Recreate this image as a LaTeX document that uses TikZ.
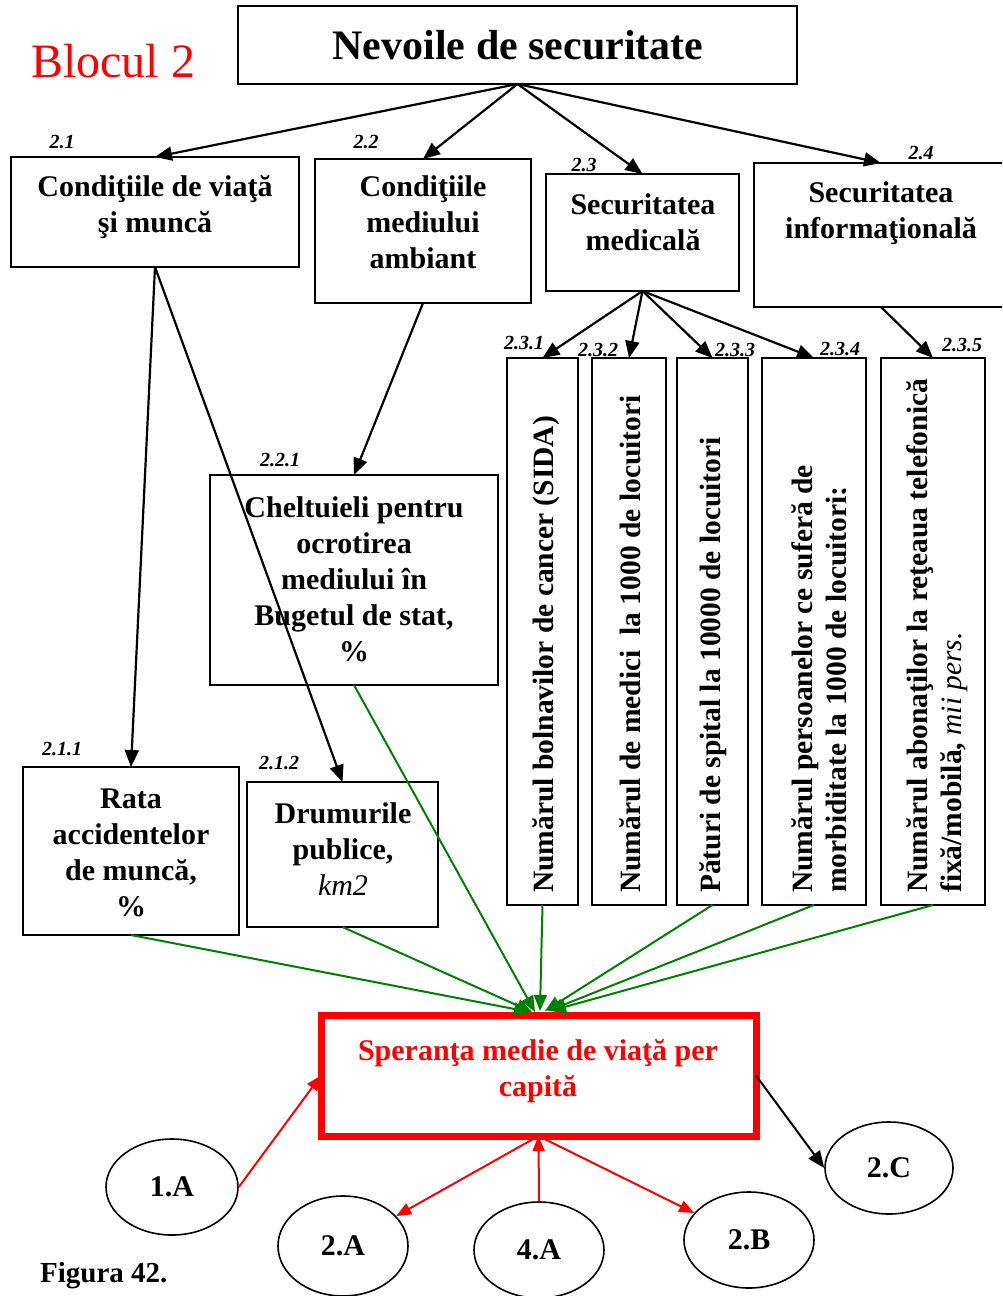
\documentclass[tikz,border=0pt]{standalone}
\usepackage{fontspec}
\setmainfont{Liberation Serif}
\usetikzlibrary{arrows.meta,shapes.geometric}
\definecolor{dkgreen}{RGB}{0,128,0}
\definecolor{pured}{RGB}{255,0,0}
\begin{document}
\begin{tikzpicture}[x=1pt,y=-1pt,
  box/.style={draw, line width=1.8pt, inner sep=0pt, outer sep=0pt},
  txt/.style={font=\bfseries\fontsize{30}{36}\selectfont, align=center, inner sep=0pt},
  vtxt/.style={font=\bfseries\fontsize{29.5}{34}\selectfont, align=left, inner sep=0pt, rotate=90, anchor=west},
  lbl/.style={font=\bfseries\itshape\fontsize{20}{22}\selectfont, inner sep=0pt},
  arr/.style={-{Triangle[length=17pt,width=14pt]}, line width=2.2pt},
  garr/.style={-{Triangle[length=16pt,width=13pt]}, line width=2pt, dkgreen},
  rarr/.style={-{Triangle[length=15pt,width=12pt]}, line width=2pt, pured},
  ell/.style={draw, ellipse, line width=1.6pt, inner sep=0pt,
    font=\bfseries\fontsize{30}{36}\selectfont}
]
\clip (0,0) rectangle (1002,1296);
\fill[white] (0,0) rectangle (1002,1296);

% title
\node[font=\fontsize{48}{52}\selectfont, text=pured, inner sep=0pt] (blocul) at (113,61) {Blocul 2};
\node[box, minimum width=559pt, minimum height=78pt] (top) at (517.5,45) {};
\node[font=\bfseries\fontsize{42}{46}\selectfont, inner sep=0pt] (toptxt) at (518,45) {Nevoile de securitate};

% level 2 boxes
\node[box, minimum width=288pt, minimum height=110pt] (c21) at (155,212) {};
\node[txt] (t21) at (155,207) {Condiţiile de viaţă\\şi muncă};
\node[lbl] (l21) at (62,142) {2.1};

\node[box, minimum width=216pt, minimum height=144pt] (c22) at (423,231) {};
\node[txt] (t22) at (423,222) {Condiţiile\\mediului\\ambiant};
\node[lbl] (l22) at (366,142) {2.2};

\node[box, minimum width=193pt, minimum height=117pt] (c23) at (642.5,232.5) {};
\node[txt] (t23) at (643,222) {Securitatea\\medicală};
\node[lbl] (l23) at (584,165) {2.3};

\node[box, minimum width=254pt, minimum height=144pt] (c24) at (881,235) {};
\node[txt] (t24) at (881,213) {Securitatea\\informaţională};
\node[lbl] (l24) at (921,153) {2.4};

\draw[arr] (top.south) -- (c21.north);
\draw[arr] (top.south) -- (c22.north);
\draw[arr] (top.south) -- (c23.north);
\draw[arr] (top.south) -- (c24.north);

% vertical boxes
\node[box, minimum width=71pt, minimum height=547pt] (v1) at (542.5,631.5) {};
\node[box, minimum width=74pt, minimum height=547pt] (v2) at (629,631.5) {};
\node[box, minimum width=71pt, minimum height=547pt] (v3) at (712.5,631.5) {};
\node[box, minimum width=104pt, minimum height=547pt] (v4) at (814,631.5) {};
\node[box, minimum width=104pt, minimum height=547pt] (v5) at (933,631.5) {};

\node[vtxt] (tv1) at (546,893) {Numărul bolnavilor de cancer (SIDA)};
\node[vtxt] (tv2) at (630,893) {Numărul de medici \ la 1000 de locuitori};
\node[vtxt] (tv3) at (713,893) {Pături de spital la 10000 de locuitori};
\begin{scope}
\clip (763,359) rectangle (845,904);
\node[vtxt] (tv4) at (821,893) {Numărul persoanelor ce suferă de\\morbiditate la 1000 de locuitori;};
\end{scope}
\node[vtxt] (tv5) at (937.5,893) {Numărul abonaţilor la reţeaua telefonică\\fixă/mobilă, {\mdseries\itshape mii pers.}};

\node[lbl] (l231) at (524,343) {2.3.1};
\node[lbl] (l232) at (598,350) {2.3.2};
\node[lbl] (l233) at (735,350) {2.3.3};
\node[lbl] (l234) at (840,349) {2.3.4};
\node[lbl] (l235) at (962,345) {2.3.5};

\draw[arr] (c23.south) -- (v1.north);
\draw[arr] (c23.south) -- (v2.north);
\draw[arr] (c23.south) -- (v3.north);
\draw[arr] (c23.south) -- (v4.north);
\draw[arr] (c24.south) -- (v5.north);

% 2.2.1
\node[box, minimum width=288pt, minimum height=210pt] (c221) at (354,580) {};
\node[txt] (t221) at (354,579) {Cheltuieli pentru\\ocrotirea\\mediului în\\Bugetul de stat,\\\%};
\node[lbl] (l221) at (280,460) {2.2.1};
\draw[arr] (c22.south) -- (c221.north);

% 2.1.1 and 2.1.2
\node[box, minimum width=216pt, minimum height=168pt] (c211) at (131,851) {};
\node[txt] (t211) at (131,853) {Rata\\accidentelor\\de muncă,\\\%};
\node[lbl] (l211) at (62,749) {2.1.1};

\node[box, minimum width=191pt, minimum height=145pt] (c212) at (342.5,854.5) {};
\node[txt] (t212) at (343,849) {Drumurile\\publice,\\{\mdseries\itshape km2}};
\node[lbl] (l212) at (279,763) {2.1.2};

\draw[arr] (c21.south) -- (c211.north);
\draw[arr] (c21.south) -- (c212.north);

% red box
\node[draw=pured, line width=7pt, minimum width=435pt, minimum height=121pt, inner sep=0pt, outer sep=0pt] (red) at (538.5,1075.5) {};
\node[txt, text=pured] (redtxt) at (538,1071) {Speranţa medie de viaţă per\\capită};

\coordinate (g1) at (530,1012);
\coordinate (g2) at (532,1012);
\coordinate (g3) at (535,1012);
\coordinate (g4) at (540,1011);
\coordinate (g5) at (545,1011);
\coordinate (g6) at (548,1011);
\coordinate (g7) at (550,1011);
\draw[garr] (c211.south) -- (g1);
\draw[garr] (c212.south) -- (g2);
\draw[garr] (c221.south) -- (g3);
\draw[garr] (v1.south) -- (g4);
\draw[garr] (v3.south) -- (g5);
\draw[garr] (v4.south) -- (g6);
\draw[garr] (v5.south) -- (g7);

% ellipses
\node[ell, minimum width=132pt, minimum height=96pt] (e1A) at (172,1187) {1.A};
\node[ell, minimum width=130pt, minimum height=100pt] (e2A) at (343,1246) {2.A};
\node[ell, minimum width=130pt, minimum height=96pt] (e4A) at (539,1250) {4.A};
\node[ell, minimum width=130pt, minimum height=96pt] (e2B) at (749,1240) {2.B};
\node[ell, minimum width=128pt, minimum height=92pt] (e2C) at (889,1168) {2.C};

\draw[rarr] (e1A.east) -- (red.west);
\draw[rarr] (red.south) -- (e2A);
\draw[rarr] (e4A.north) -- (red.south);
\draw[rarr] (red.south) -- (e2B);
\draw[arr, line width=2pt] (red.east) -- (e2C.west);

\node[font=\bfseries\fontsize{29}{32}\selectfont, inner sep=0pt, anchor=west] (fig) at (40,1276) {Figura 42.};
\end{tikzpicture}
\end{document}
